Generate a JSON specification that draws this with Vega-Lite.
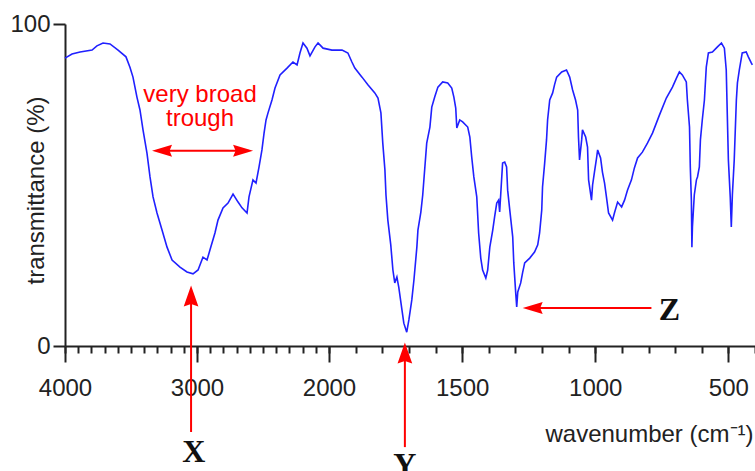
{
  "$schema": "https://vega.github.io/schema/vega-lite/v6.json",
  "autosize": {"type": "none"},
  "padding": {"left": 65, "top": 24, "right": 0, "bottom": 125},
  "width": 690,
  "height": 322,
  "background": "white",
  "config": {
    "view": {"stroke": null},
    "axis": {
      "grid": false,
      "domainColor": "#222",
      "tickColor": "#222",
      "domainWidth": 2,
      "tickWidth": 2,
      "labelFont": "Liberation Sans",
      "labelFontSize": 24,
      "labelColor": "#222",
      "titleFont": "Liberation Sans",
      "titleFontSize": 24,
      "titleFontWeight": "normal",
      "titleColor": "#222",
      "labelFlush": false,
      "labelOverlap": false,
      "labelBound": false
    }
  },
  "datasets": {
    "spectrum": [
      {"w":4000,"t":89.4},{"w":3947,"t":90.7},{"w":3886,"t":91.3},{"w":3795,"t":91.9},{"w":3758,"t":93.2},{"w":3712,"t":94.1},{"w":3659,"t":93.8},{"w":3598,"t":91.9},{"w":3538,"t":89.8},{"w":3508,"t":86.6},{"w":3485,"t":83.5},{"w":3455,"t":77.3},{"w":3432,"t":73.3},{"w":3409,"t":67.1},{"w":3379,"t":59.9},{"w":3356,"t":52.5},{"w":3333,"t":46.3},{"w":3303,"t":41.3},{"w":3265,"t":36.0},{"w":3227,"t":30.7},{"w":3189,"t":26.7},{"w":3129,"t":24.5},{"w":3076,"t":23.0},{"w":3030,"t":22.4},{"w":2992,"t":23.6},{"w":2955,"t":27.6},{"w":2924,"t":26.7},{"w":2902,"t":29.8},{"w":2864,"t":35.1},{"w":2841,"t":39.1},{"w":2803,"t":42.9},{"w":2765,"t":44.4},{"w":2727,"t":47.2},{"w":2689,"t":44.7},{"w":2659,"t":42.9},{"w":2621,"t":41.3},{"w":2606,"t":46.3},{"w":2576,"t":51.6},{"w":2553,"t":50.6},{"w":2530,"t":55.6},{"w":2508,"t":60.9},{"w":2492,"t":66.1},{"w":2477,"t":70.2},{"w":2462,"t":72.4},{"w":2432,"t":76.4},{"w":2409,"t":80.1},{"w":2371,"t":84.2},{"w":2318,"t":86.3},{"w":2273,"t":88.2},{"w":2242,"t":87.3},{"w":2220,"t":91.0},{"w":2197,"t":94.1},{"w":2167,"t":92.5},{"w":2144,"t":90.1},{"w":2106,"t":92.9},{"w":2083,"t":94.1},{"w":2045,"t":92.5},{"w":1989,"t":91.9},{"w":1951,"t":91.9},{"w":1929,"t":91.0},{"w":1914,"t":88.2},{"w":1903,"t":86.3},{"w":1876,"t":83.5},{"w":1854,"t":81.1},{"w":1828,"t":78.6},{"w":1816,"t":77.0},{"w":1805,"t":72.4},{"w":1798,"t":63.0},{"w":1790,"t":54.7},{"w":1786,"t":46.9},{"w":1779,"t":39.1},{"w":1768,"t":31.4},{"w":1760,"t":23.6},{"w":1753,"t":19.6},{"w":1745,"t":21.4},{"w":1738,"t":18.3},{"w":1726,"t":11.2},{"w":1719,"t":7.1},{"w":1708,"t":4.3},{"w":1700,"t":8.1},{"w":1689,"t":14.3},{"w":1681,"t":20.5},{"w":1670,"t":30.7},{"w":1666,"t":36.0},{"w":1655,"t":41.6},{"w":1648,"t":46.9},{"w":1633,"t":63.0},{"w":1621,"t":68.0},{"w":1614,"t":74.2},{"w":1603,"t":77.3},{"w":1591,"t":80.4},{"w":1573,"t":82.0},{"w":1554,"t":81.7},{"w":1539,"t":80.1},{"w":1531,"t":77.3},{"w":1524,"t":73.9},{"w":1520,"t":67.7},{"w":1509,"t":70.2},{"w":1498,"t":69.6},{"w":1479,"t":68.0},{"w":1471,"t":64.9},{"w":1464,"t":58.7},{"w":1456,"t":52.5},{"w":1445,"t":46.3},{"w":1438,"t":35.1},{"w":1430,"t":27.3},{"w":1423,"t":23.6},{"w":1411,"t":21.1},{"w":1404,"t":23.6},{"w":1396,"t":30.7},{"w":1385,"t":36.0},{"w":1378,"t":40.1},{"w":1370,"t":44.4},{"w":1363,"t":45.3},{"w":1359,"t":41.6},{"w":1348,"t":56.8},{"w":1340,"t":57.1},{"w":1333,"t":55.6},{"w":1329,"t":48.4},{"w":1321,"t":42.2},{"w":1310,"t":33.9},{"w":1306,"t":25.8},{"w":1299,"t":16.8},{"w":1295,"t":12.1},{"w":1291,"t":16.8},{"w":1280,"t":19.6},{"w":1273,"t":22.7},{"w":1265,"t":25.8},{"w":1246,"t":27.3},{"w":1228,"t":29.2},{"w":1216,"t":31.4},{"w":1209,"t":35.1},{"w":1201,"t":42.2},{"w":1198,"t":49.4},{"w":1190,"t":56.8},{"w":1183,"t":64.0},{"w":1179,"t":70.2},{"w":1171,"t":76.4},{"w":1160,"t":78.6},{"w":1153,"t":81.1},{"w":1145,"t":83.5},{"w":1126,"t":85.1},{"w":1108,"t":85.7},{"w":1096,"t":83.5},{"w":1085,"t":79.5},{"w":1074,"t":76.4},{"w":1066,"t":73.3},{"w":1063,"t":64.9},{"w":1059,"t":57.8},{"w":1051,"t":64.0},{"w":1048,"t":67.1},{"w":1036,"t":64.9},{"w":1029,"t":61.8},{"w":1025,"t":51.6},{"w":1014,"t":45.3},{"w":1010,"t":50.0},{"w":1003,"t":54.0},{"w":995,"t":58.4},{"w":991,"t":60.9},{"w":980,"t":58.4},{"w":973,"t":54.0},{"w":965,"t":50.6},{"w":958,"t":46.3},{"w":950,"t":41.3},{"w":935,"t":39.1},{"w":928,"t":41.3},{"w":916,"t":44.7},{"w":901,"t":43.2},{"w":890,"t":45.3},{"w":879,"t":48.4},{"w":864,"t":51.6},{"w":853,"t":55.3},{"w":841,"t":58.4},{"w":823,"t":60.2},{"w":804,"t":63.0},{"w":785,"t":66.1},{"w":759,"t":71.7},{"w":733,"t":77.0},{"w":710,"t":80.4},{"w":695,"t":83.2},{"w":684,"t":85.1},{"w":673,"t":84.2},{"w":658,"t":82.0},{"w":654,"t":76.4},{"w":646,"t":68.0},{"w":643,"t":55.6},{"w":639,"t":45.3},{"w":637,"t":30.7},{"w":635,"t":37.0},{"w":628,"t":46.9},{"w":620,"t":51.6},{"w":616,"t":52.5},{"w":609,"t":55.6},{"w":605,"t":64.0},{"w":598,"t":70.2},{"w":590,"t":76.4},{"w":583,"t":86.6},{"w":575,"t":91.0},{"w":560,"t":91.3},{"w":541,"t":92.9},{"w":526,"t":94.1},{"w":515,"t":92.5},{"w":508,"t":85.7},{"w":504,"t":71.7},{"w":500,"t":57.8},{"w":493,"t":46.3},{"w":489,"t":37.0},{"w":485,"t":46.9},{"w":478,"t":57.8},{"w":470,"t":76.4},{"w":466,"t":81.7},{"w":459,"t":85.7},{"w":448,"t":91.0},{"w":433,"t":91.3},{"w":425,"t":89.8},{"w":414,"t":87.9},{"w":410,"t":87.3}
    ],
    "shafts": [
      {"x1": 3300, "x2": 2610, "y1": 60.6, "y2": 60.6},
      {"x1": 3045, "x2": 3045, "y1": -26.7, "y2": 14},
      {"x1": 1715, "x2": 1715, "y1": -31.4, "y2": -3},
      {"x1": 1250, "x2": 789, "y1": 11.8, "y2": 11.8}
    ],
    "headsLeft": [
      {"w": 3265, "t": 60.6},
      {"w": 1235, "t": 11.8}
    ],
    "headsRight": [
      {"w": 2651, "t": 60.6}
    ],
    "headsUp": [
      {"w": 3045, "t": 15.5},
      {"w": 1715, "t": -2.2}
    ],
    "redText": [
      {"w": 2977, "t": 75.8, "label": "very broad\ntrough"}
    ],
    "letters": [
      {"w": 3025, "t": -36.0, "label": "X"},
      {"w": 1715, "t": -40.1, "label": "Y"},
      {"w": 721, "t": 8.1, "label": "Z"}
    ]
  },
  "resolve": {"axis": {"x": "independent"}},
  "layer": [
    {
      "data": {"name": "shafts"},
      "mark": {"type": "rule", "color": "#ff0000", "strokeWidth": 2},
      "encoding": {
        "x": {
          "field": "x1", "type": "quantitative",
          "scale": {"domain": [4000, 2000, 400], "range": [0, 264, 690], "nice": false, "zero": false},
          "axis": {
            "orient": "bottom",
            "values": [4000,3900,3800,3700,3600,3500,3400,3300,3200,3100,3000,2900,2800,2700,2600,2500,2400,2300,2200,2100,2000,1900,1800,1700,1600,1500,1400,1300,1200,1100,1000,900,800,700,600,500,400],
            "tickSize": 7,
            "labels": false,
            "domain": false,
            "title": null
          }
        },
        "x2": {"field": "x2"},
        "y": {
          "field": "y1", "type": "quantitative",
          "scale": {"domain": [0, 100], "nice": false, "zero": false},
          "axis": {
            "values": [0, 100],
            "format": "d",
            "tickSize": 12,
            "labelPadding": 3,
            "title": "transmittance (%)",
            "titleAngle": -90,
            "titleAlign": "center",
            "titleBaseline": "alphabetic",
            "titleX": -22,
            "titleY": 166
          }
        },
        "y2": {"field": "y2"}
      }
    },
    {
      "data": {"name": "spectrum"},
      "mark": {"type": "line", "color": "#2020ff", "strokeWidth": 1.6, "clip": false},
      "encoding": {
        "x": {
          "field": "w", "type": "quantitative",
          "axis": {
            "orient": "bottom",
            "values": [4000, 3000, 2000, 1500, 1000, 500],
            "format": "d",
            "tickSize": 16,
            "labelPadding": 14,
            "title": "wavenumber (cm⁻¹)",
            "titleAnchor": "end",
            "titleAlign": "right",
            "titleBaseline": "alphabetic",
            "titleX": 688,
            "titleY": 95
          }
        },
        "y": {"field": "t", "type": "quantitative"}
      }
    },
    {
      "data": {"name": "headsLeft"},
      "mark": {"type": "point", "shape": "M-1,0L1,-0.6L0.75,0L1,0.6Z", "filled": true, "color": "#ff0000", "opacity": 1, "size": 400},
      "encoding": {
        "x": {"field": "w", "type": "quantitative", "axis": null},
        "y": {"field": "t", "type": "quantitative"}
      }
    },
    {
      "data": {"name": "headsRight"},
      "mark": {"type": "point", "shape": "M1,0L-1,-0.6L-0.75,0L-1,0.6Z", "filled": true, "color": "#ff0000", "opacity": 1, "size": 400},
      "encoding": {
        "x": {"field": "w", "type": "quantitative", "axis": null},
        "y": {"field": "t", "type": "quantitative"}
      }
    },
    {
      "data": {"name": "headsUp"},
      "mark": {"type": "point", "shape": "M0,-1L0.7,1L0,0.75L-0.7,1Z", "filled": true, "color": "#ff0000", "opacity": 1, "size": 440},
      "encoding": {
        "x": {"field": "w", "type": "quantitative", "axis": null},
        "y": {"field": "t", "type": "quantitative"}
      }
    },
    {
      "data": {"name": "redText"},
      "mark": {"type": "text", "font": "Liberation Sans", "fontSize": 24, "color": "#ff0000", "align": "center", "baseline": "alphabetic", "lineBreak": "\n", "lineHeight": 24},
      "encoding": {
        "x": {"field": "w", "type": "quantitative", "axis": null},
        "y": {"field": "t", "type": "quantitative"},
        "text": {"field": "label"}
      }
    },
    {
      "data": {"name": "letters"},
      "mark": {"type": "text", "font": "Liberation Serif", "fontSize": 32, "fontWeight": "bold", "color": "#111", "align": "center", "baseline": "alphabetic"},
      "encoding": {
        "x": {"field": "w", "type": "quantitative", "axis": null},
        "y": {"field": "t", "type": "quantitative"},
        "text": {"field": "label"}
      }
    }
  ]
}
